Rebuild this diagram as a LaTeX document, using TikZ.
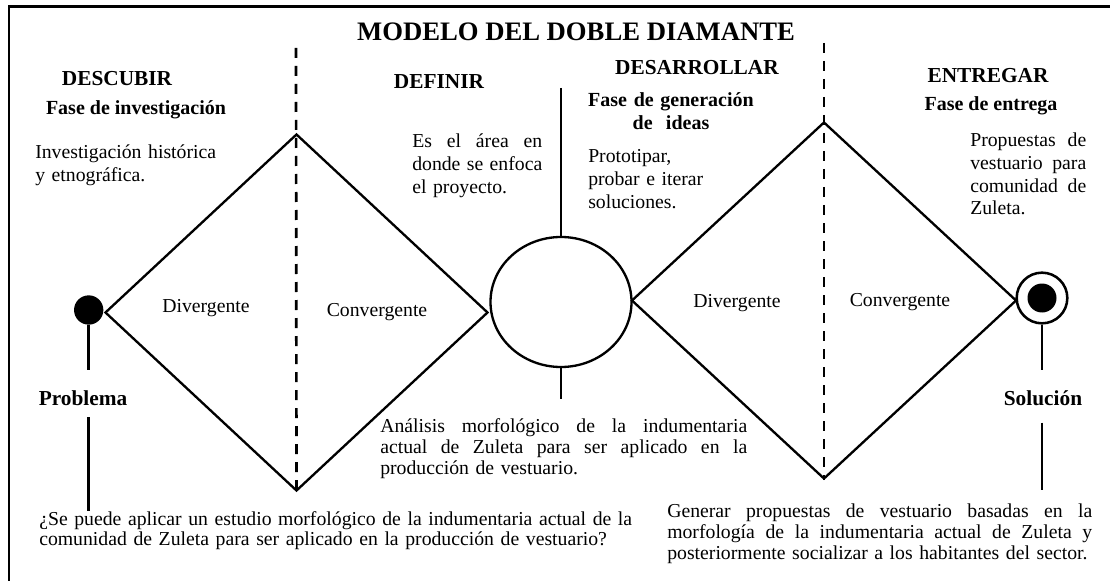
\documentclass[tikz,border=0pt]{standalone}
\usepackage{fontspec}
\setmainfont{Liberation Serif}
\usetikzlibrary{shapes.geometric}
% one justified line of a text block
\newcommand{\jline}[2]{\leavevmode\hbox to #1{\spaceskip=0.25em plus 1fil\relax #2}}

\begin{document}
\begin{tikzpicture}[
  x=0.75pt, y=-0.75pt,
  diam/.style={draw, diamond, line width=1.75pt, inner sep=0pt},
  guide/.style={line width=2pt, dash pattern=on 7.5pt off 6pt},
  link/.style={line width=1.9pt},
  blob/.style={circle, fill, inner sep=0pt, minimum size=22pt},
  ring/.style={circle, draw, line width=1.9pt, inner sep=0pt, minimum size=38pt},
  banner/.style={inner sep=0pt, anchor=base, font=\fontsize{20}{24}\selectfont\bfseries},
  stage/.style={inner sep=0pt, anchor=base, font=\fontsize{16}{18}\selectfont\bfseries},
  phase/.style={inner sep=0pt, anchor=base, font=\fontsize{15}{17.25}\selectfont\bfseries},
  txt/.style={inner sep=0pt, anchor=base, font=\fontsize{14.8}{17}\selectfont},
  note/.style={txt, anchor=base west, align=left}
]
\path[use as bounding box, clip] (0,0) rectangle (1110,581);
\draw[line width=2.2pt] (9,620) |- (1130,6.5);

% diamonds and central focus
\node[diam, minimum width=287.25pt, minimum height=267.75pt] (diamA) at (296.5,312.5) {};
\node[diam, minimum width=288.75pt, minimum height=267.75pt] (diamB) at (824,300.5) {};
\node[draw, ellipse, line width=1.75pt, inner sep=0pt, minimum width=105.75pt, minimum height=97.5pt] (focus) at (561,302) {};
\node[blob] (start) at (88.7,310) {};
\node[ring] (goal) at (1042,298) {};
\node[blob, minimum size=21.75pt] (goalin) at (goal) {};

\coordinate (cutA) at (296,48);
\coordinate (cutB) at (824,43);
\coordinate (axis) at (561,88);

% headings
\node[banner] (title) at (576,41) {MODELO DEL DOBLE DIAMANTE};
\node[stage] (descubrir) at (117,86) {DESCUBIR};
\node[phase] (faseA) at (136,115) {Fase de investigación};
\node[stage] (definir) at (439,89) {DEFINIR};
\node[stage] (desarrollar) at (697,75) {DESARROLLAR};
\node[phase, text width=150pt, align=center] (faseC) at (671,107) {Fase de generación\\de~~ideas};
\node[stage] (entregar) at (988,83) {ENTREGAR};
\node[phase] (faseD) at (991,111) {Fase de entrega};

% phase texts
\node[note, text width=150pt] (noteA) at (35,159) {Investigación histórica\\y etnográfica.};
\node[note, text width=97.5pt] (noteB) at (412,148) {\jline{97.5pt}{Es el área en}\\\jline{97.5pt}{donde se enfoca}\\el proyecto.};
\node[note, text width=150pt] (noteC) at (588,163) {Prototipar,\\probar e iterar\\soluciones.};
\node[note, text width=87pt] (noteD) at (970,147) {\jline{87pt}{Propuestas de}\\\jline{87pt}{vestuario para}\\\jline{87pt}{comunidad de}\\Zuleta.};

\node[txt] (divA) at (206,312) {Divergente};
\node[txt] (conA) at (377,316) {Convergente};
\node[txt] (divB) at (737,307) {Divergente};
\node[txt] (conB) at (900,306) {Convergente};

\node[stage] (prob) at (83,405) {Problema};
\node[stage] (sol) at (1043,405) {Solución};

\node[note, text width=275.25pt, font=\fontsize{14.8}{16.1}\selectfont] (analysis) at (380,432) {\jline{275.25pt}{Análisis morfológico de la indumentaria}\\\jline{275.25pt}{actual de Zuleta para ser aplicado en la}\\producción de vestuario.};
\node[note, text width=480pt, font=\fontsize{14.8}{15}\selectfont] (quest) at (39,525) {¿Se puede aplicar un estudio morfológico de la indumentaria actual de la\\comunidad de Zuleta para ser aplicado en la producción de vestuario?};
\node[note, text width=318.75pt, font=\fontsize{14.8}{16.1}\selectfont] (gen) at (667,517) {\jline{318.75pt}{Generar propuestas de vestuario basadas en la}\\\jline{318.75pt}{morfología de la indumentaria actual de Zuleta y}\\posteriormente socializar a los habitantes del sector.};

% dividers and connectors
\draw[guide] (cutA) -- (diamA.south);
\draw[guide] (cutB) -- (diamB.south);
\draw[link] (axis) -- (focus.north);
\draw[link, shorten >=14pt] (focus.south) -- (focus.south |- analysis.north);
\draw[link, shorten >=14.7pt] (start.south) -- (start.south |- prob.north);
\draw[link, shorten <=9pt] (start |- prob.south) -- (start |- quest.north);
\draw[link, shorten >=15pt] (goal.south) -- (goal.south |- sol.north);
\draw[link, shorten <=12.75pt, shorten >=9.75pt] (goal |- sol.south) -- (goal |- gen.north);
\end{tikzpicture}
\end{document}
